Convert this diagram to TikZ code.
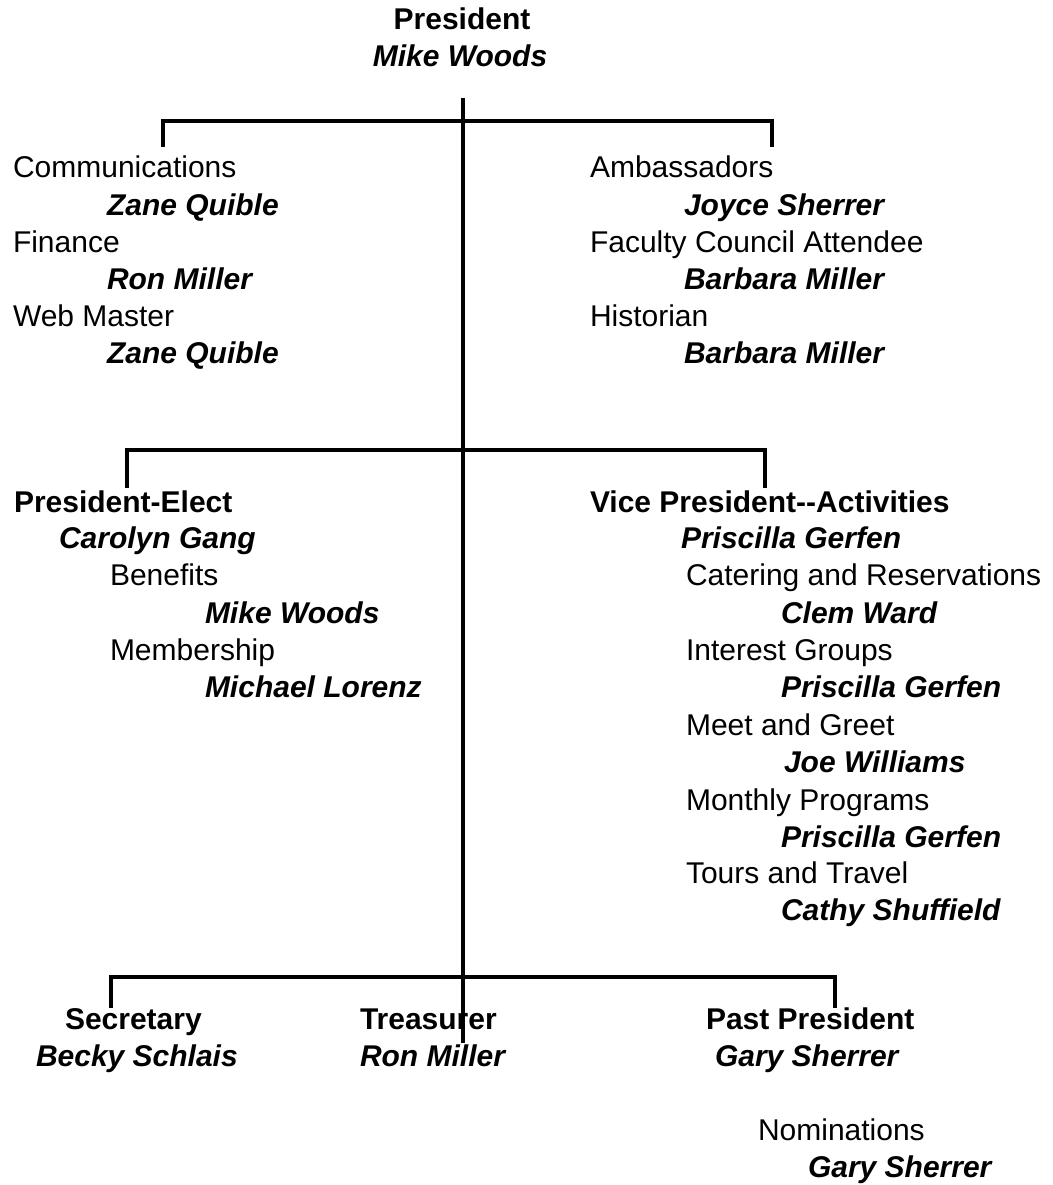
\documentclass[tikz,border=0pt]{standalone}
\usepackage{fontspec}
\setmainfont{Liberation Sans}[Ligatures=NoCommon]
\begin{document}
\begin{tikzpicture}[x=1pt,y=-1pt,
  lbl/.style={inner sep=0pt,outer sep=0pt,anchor=base west,font=\fontsize{30}{36}\selectfont},
  role/.style={lbl},
  head/.style={lbl,font=\fontsize{30}{36}\selectfont\bfseries},
  who/.style={lbl,font=\fontsize{30}{36}\selectfont\bfseries\itshape},
  conn/.style={line width=3.5pt,line join=miter}]
\useasboundingbox (0,0) rectangle (1052,1185);

% Top
\node[head,anchor=base] (pres) at (462,30) {President};
\node[who,anchor=base] (presn) at (460,67) {Mike Woods};

% Upper left block
\node[role] (comm) at (13,178) {Communications};
\node[who]  (commn) at (107,215) {Zane Quible};
\node[role] (fin) at (13,252) {Finance};
\node[who]  (finn) at (107,289) {Ron Miller};
\node[role] (web) at (13,326) {Web Master};
\node[who]  (webn) at (107,363) {Zane Quible};

% Upper right block
\node[role] (amb) at (590,178) {Ambassadors};
\node[who]  (ambn) at (684,215) {Joyce Sherrer};
\node[role] (fca) at (590,252) {Faculty Council Attendee};
\node[who]  (fcan) at (684,289) {Barbara Miller};
\node[role] (hist) at (590,326) {Historian};
\node[who]  (histn) at (684,363) {Barbara Miller};

% Middle left block
\node[head] (pe) at (14,512) {President-Elect};
\node[who]  (pen) at (59,548) {Carolyn Gang};
\node[role] (ben) at (110,585) {Benefits};
\node[who]  (benn) at (205,623) {Mike Woods};
\node[role] (mem) at (110,660) {Membership};
\node[who]  (memn) at (205,697) {Michael Lorenz};

% Middle right block
\node[head] (vp) at (590,512) {Vice President-{}-Activities};
\node[who]  (vpn) at (681,548) {Priscilla Gerfen};
\node[role] (cat) at (686,585) {Catering and Reservations};
\node[who]  (catn) at (781,623) {Clem Ward};
\node[role] (ig) at (686,660) {Interest Groups};
\node[who]  (ign) at (781,697) {Priscilla Gerfen};
\node[role] (mg) at (686,735) {Meet and Greet};
\node[who]  (mgn) at (784,772) {Joe Williams};
\node[role] (mp) at (686,810) {Monthly Programs};
\node[who]  (mpn) at (781,847) {Priscilla Gerfen};
\node[role] (tt) at (686,883) {Tours and Travel};
\node[who]  (ttn) at (781,920) {Cathy Shuffield};

% Bottom row
\node[head] (sec) at (65,1029) {Secretary};
\node[who]  (secn) at (36,1066) {Becky Schlais};
\node[head] (tre) at (360,1029) {Treasurer};
\node[who]  (tren) at (360,1066) {Ron Miller};
\node[head] (past) at (706,1029) {Past President};
\node[who]  (pastn) at (715,1066) {Gary Sherrer};
\node[role] (nom) at (758,1140) {Nominations};
\node[who]  (nomn) at (808,1177) {Gary Sherrer};

% Connector coordinates
\coordinate (ttop) at (463,98);
\coordinate (tbot) at (463,1043);
\coordinate (a1) at (163,147);
\coordinate (b1) at (163,121);
\coordinate (c1) at (772,121);
\coordinate (d1) at (772,147);
\coordinate (a2) at (127,488);
\coordinate (b2) at (127,450);
\coordinate (c2) at (765,450);
\coordinate (d2) at (765,488);
\coordinate (a3) at (111,1008);
\coordinate (b3) at (111,977);
\coordinate (c3) at (835,977);
\coordinate (d3) at (835,1008);

\draw[conn] (ttop) -- (tbot);
\draw[conn] (a1) -- (b1) -- (c1) -- (d1);
\draw[conn] (a2) -- (b2) -- (c2) -- (d2);
\draw[conn] (a3) -- (b3) -- (c3) -- (d3);
\end{tikzpicture}
\end{document}
